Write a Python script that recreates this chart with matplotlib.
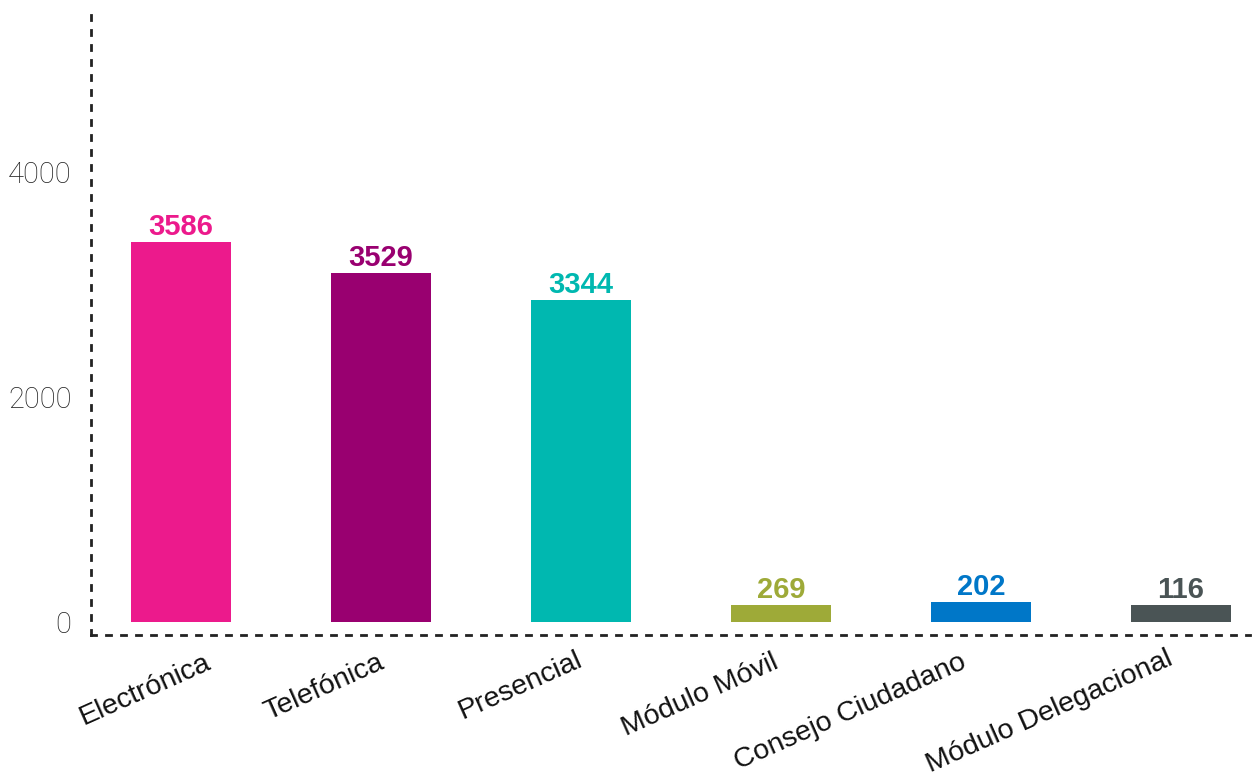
import matplotlib
matplotlib.use('Agg')
import matplotlib.pyplot as plt

# categories and values
canales = ['Electrónica', 'Telefónica', 'Presencial', 'Módulo Móvil',
           'Consejo Ciudadano', 'Módulo Delegacional']
totales = [3586, 3529, 3344, 269, 202, 116]          # printed labels
alturas = [3378, 3102, 2862, 151, 174, 151]          # bar heights as drawn
colores = ['#EC1A8C', '#990070', '#00B8B0', '#9EAA38', '#0077C8', '#4A5455']
yticks = [0, 2000, 4000]

# per-label offsets (pixels) for the rotated category names
label_dx = [-36, -57, -61, -81, -131, -132]
label_dy = [-55, -52, -51, -60, -77, -77]

fig = plt.figure(figsize=(12.59, 7.8), dpi=100)
ax = fig.add_axes([0.0723, 0.1859, 0.9206, 0.7949])

x = list(range(len(canales)))
ax.bar(x, alturas, width=0.5, color=colores)

for i, (v, c) in enumerate(zip(totales, colores)):
    ax.annotate(str(v), xy=(i, alturas[i]), xytext=(0, 1),
                textcoords='offset points', ha='center', va='bottom',
                fontsize=21, fontweight='bold', color=c,
                family='Liberation Sans')

for i, name in enumerate(canales):
    ax.annotate(name, xy=(i, 0), xycoords=('data', 'axes fraction'),
                xytext=(label_dx[i], label_dy[i]), textcoords='offset pixels',
                rotation=24, rotation_mode='anchor', ha='center', va='center',
                fontsize=20.5, color='#111111', family='Liberation Sans')

ax.set_xlim(-0.45, 5.345)
ax.set_ylim(-116, 5396)
ax.set_xticks([])
ax.set_yticks(yticks)
ax.set_yticklabels([str(t) for t in yticks], fontsize=21, color='#222222',
                   family='Roboto', fontweight='light')
ax.tick_params(axis='y', length=0, pad=14)

for side in ['top', 'right']:
    ax.spines[side].set_visible(False)
for side in ['left', 'bottom']:
    ax.spines[side].set_linewidth(2)
    ax.spines[side].set_color('#222222')
    ax.spines[side].set_linestyle((0, (1.8, 3.6)))

fig.savefig('out.png', dpi=100)
